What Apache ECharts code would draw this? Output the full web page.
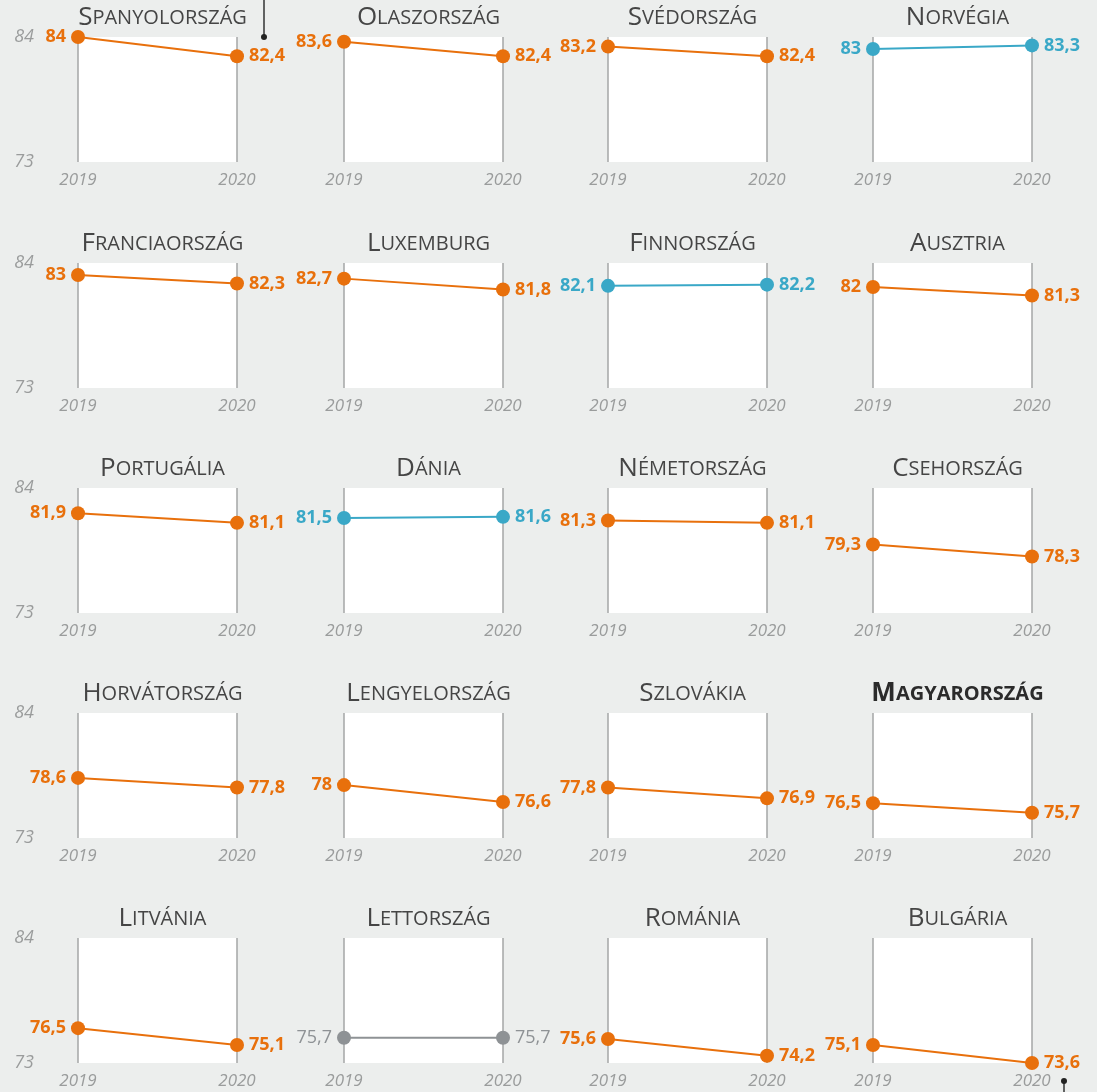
<!DOCTYPE html>
<html>
<head>
<meta charset="utf-8">
<script src="https://cdn.jsdelivr.net/npm/echarts@6/dist/echarts.min.js"></script>
<style>
html,body{margin:0;padding:0;background:#eceeed;}
#c{width:1097px;height:1092px;}
</style>
</head>
<body>
<div id="c"></div>
<script>
// ---- data ----
const countries = ['Spanyolország','Olaszország','Svédország','Norvégia',
  'Franciaország','Luxemburg','Finnország','Ausztria',
  'Portugália','Dánia','Németország','Csehország',
  'Horvátország','Lengyelország','Szlovákia','Magyarország',
  'Litvánia','Lettország','Románia','Bulgária'];
const years = ['2019','2020'];
const values2019 = [84,83.6,83.2,83,83,82.7,82.1,82,81.9,81.5,81.3,79.3,78.6,78,77.8,76.5,76.5,75.7,75.6,75.1];
const values2020 = [82.4,82.4,82.4,83.3,82.3,81.8,82.2,81.3,81.1,81.6,81.1,78.3,77.8,76.6,76.9,75.7,75.1,75.7,74.2,73.6];
const highlighted = ['Magyarország'];
const yTickLabels = ['73','84'];

// ---- layout ----
const colLeft = [78,344,608,873];
const rowTop = [37,263,488,713,938];
const W = 159, H = 125;
const ORANGE = '#e8700c', BLUE = '#3aa8c7', GREY = '#8e9295';
const FONT = '"Open Sans", "Noto Sans", sans-serif';

const all = values2019.concat(values2020);
const yMin = Math.min(...all), yMax = Math.max(...all);
const fmt = v => String(v).replace('.', ',');

const grid = [], xAxis = [], yAxis = [], series = [], title = [];
countries.forEach((name, i) => {
  const r = Math.floor(i / 4), c = i % 4;
  const a = values2019[i], b = values2020[i];
  const color = b < a ? ORANGE : (b > a ? BLUE : GREY);
  const same = a === b;
  grid.push({left: colLeft[c], top: rowTop[r], width: W, height: H,
    show: true, backgroundColor: '#ffffff', borderWidth: 0});
  xAxis.push({type: 'category', gridIndex: i, data: years, boundaryGap: false,
    axisLine: {show: false}, axisTick: {show: false},
    splitLine: {show: true, lineStyle: {color: '#a4a6a6', width: 1.5}},
    axisLabel: {color: '#9a9c9c', fontStyle: 'italic', fontSize: 17, fontFamily: FONT, margin: 10}});
  yAxis.push({type: 'value', gridIndex: i, min: yMin, max: yMax,
    axisLine: {show: false}, axisTick: {show: false}, splitLine: {show: false},
    axisLabel: {show: c === 0, customValues: [yMin, yMax],
      formatter: v => (Math.abs(v - yMin) < 1e-6 ? yTickLabels[0] : yTickLabels[1]),
      color: '#9a9c9c', fontStyle: 'italic', fontSize: 18, fontFamily: FONT, margin: 44}});
  const lbl = {show: true, color: color, fontSize: 18, fontWeight: same ? 'normal' : 'bold',
    fontFamily: FONT, distance: 5, formatter: p => fmt(p.value)};
  series.push({type: 'line', xAxisIndex: i, yAxisIndex: i,
    data: [
      {value: a, label: Object.assign({}, lbl, {position: 'left'})},
      {value: b, label: Object.assign({}, lbl, {position: 'right'})}
    ],
    symbol: 'circle', symbolSize: 14, showSymbol: true,
    lineStyle: {color: color, width: 2}, itemStyle: {color: color},
    animation: false, silent: true});
  const bold = highlighted.includes(name);
  const first = name.charAt(0), rest = name.slice(1).toUpperCase();
  const tc = bold ? '#2b2b2b' : '#454545', tw = bold ? 'bold' : 'normal';
  title.push({text: '{a|' + first + '}{b|' + rest + '}',
    left: colLeft[c] + W / 2, top: rowTop[r] - 37, textAlign: 'center',
    textStyle: {rich: {
      a: {fontSize: 26, fontFamily: FONT, color: tc, fontWeight: tw},
      b: {fontSize: 20, fontFamily: FONT, color: tc, fontWeight: tw}
    }}});
});

const chart = echarts.init(document.getElementById('c'), null, {renderer: 'canvas'});
chart.setOption({
  backgroundColor: '#eceeed',
  animation: false,
  title: title, grid: grid, xAxis: xAxis, yAxis: yAxis, series: series,
  graphic: [
    {type: 'line', shape: {x1: 264, y1: 0, x2: 264, y2: 37}, style: {stroke: '#333', lineWidth: 1.5}},
    {type: 'circle', shape: {cx: 264, cy: 37, r: 3}, style: {fill: '#222'}},
    {type: 'line', shape: {x1: 1064, y1: 1081, x2: 1064, y2: 1092}, style: {stroke: '#333', lineWidth: 1.5}},
    {type: 'circle', shape: {cx: 1064, cy: 1081, r: 3}, style: {fill: '#222'}}
  ]
});
</script>
</body>
</html>
